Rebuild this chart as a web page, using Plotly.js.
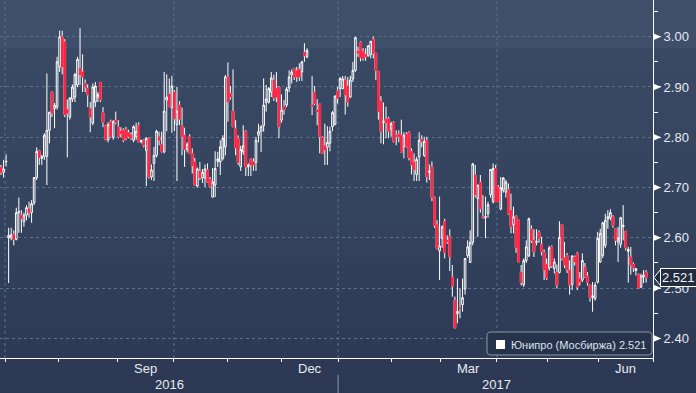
<!DOCTYPE html>
<html><head><meta charset="utf-8">
<script src="https://cdn.plot.ly/plotly-3.0.1.min.js"></script>
<style>
html,body{margin:0;padding:0;width:696px;height:393px;overflow:hidden;
background:linear-gradient(to bottom,#3f4f69 0px,#3f4f69 48px,#3a4963 49px,#35445e 207px,#303d58 300px,#2c3853 393px);}
#chart{width:696px;height:393px;}
</style></head><body><div id="chart"></div>
<script>
const openP=[
2.74,2.73,2.751,2.60,2.60,2.607,2.597,2.65,2.645,2.632,
2.645,2.658,2.65,2.67,2.72,2.773,2.758,2.762,2.762,2.814,
2.89,2.857,2.86,2.94,3.00,2.99,2.855,2.84,2.876,2.88,
2.904,2.937,2.93,2.907,2.897,2.857,2.828,2.87,2.88,2.909,
2.849,2.823,2.795,2.831,2.80,2.834,2.821,2.812,2.814,2.816,
2.809,2.805,2.794,2.801,2.824,2.791,2.794,2.774,2.798,2.721,
2.748,2.764,2.801,2.786,2.771,2.874,2.886,2.859,2.89,2.825,
2.864,2.823,2.804,2.776,2.801,2.768,2.751,2.703,2.733,2.719,
2.719,2.735,2.716,2.681,2.705,2.752,2.751,2.758,2.781,2.92,
2.887,2.852,2.817,2.798,2.741,2.771,2.812,2.741,2.757,2.751,
2.75,2.804,2.812,2.823,2.869,2.87,2.89,2.914,2.897,2.90,
2.834,2.861,2.864,2.898,2.924,2.937,2.932,2.935,2.93,2.969,
2.96,null,2.864,2.89,2.854,2.866,2.80,2.783,2.78,2.788,
2.821,2.825,2.892,2.897,2.897,2.914,2.902,2.88,2.916,2.933,
2.971,2.989,2.971,2.965,2.962,2.965,2.995,2.967,2.931,2.872,
2.829,2.836,2.837,2.816,2.829,2.804,2.806,2.804,2.781,2.806,
2.81,2.772,2.751,2.726,2.761,2.796,2.764,2.794,2.73,2.741,
2.68,2.626,2.574,2.599,2.633,2.595,2.602,2.522,2.476,2.449,
2.461,2.467,2.498,2.565,2.551,2.591,2.725,2.678,2.71,2.642,
2.64,2.648,2.686,2.672,2.738,2.70,2.657,2.695,2.691,2.696,
2.655,2.626,2.642,2.635,2.532,2.507,2.555,2.564,2.617,2.595,
2.591,2.611,2.587,2.571,2.547,2.54,2.582,2.539,2.532,2.531,
2.626,2.56,2.565,2.536,2.507,2.562,2.569,2.519,2.516,2.542,
2.524,2.507,2.481,2.479,2.512,2.552,2.565,2.585,2.637,2.64,
2.642,2.618,2.592,2.587,2.622,2.613,2.573,2.562,2.547,2.535,
2.527,2.502,2.522,2.532];
const highP=[
2.745,2.755,2.766,2.62,2.62,2.615,2.66,2.68,2.655,2.65,
2.665,2.672,2.675,2.72,2.78,2.775,2.765,2.808,2.927,2.85,
2.89,2.868,2.96,3.012,3.012,2.995,2.875,2.88,2.905,2.928,
2.96,3.017,2.965,2.915,2.905,2.87,2.907,2.91,2.89,2.91,
2.86,2.825,2.83,2.835,2.834,2.851,2.834,2.82,2.818,2.821,
2.815,2.81,2.824,2.829,2.83,2.795,2.796,2.80,2.80,2.746,
2.781,2.815,2.811,2.811,2.93,2.925,2.917,2.922,2.894,2.90,
2.872,2.859,2.819,2.79,2.806,2.778,2.759,2.74,2.751,2.737,
2.746,2.748,2.721,2.739,2.772,2.771,2.794,2.804,2.924,2.949,
2.902,2.935,2.834,2.804,2.783,2.824,2.814,2.748,2.758,2.758,
2.801,2.827,2.824,2.917,2.904,2.90,2.93,2.924,2.93,2.902,
2.885,2.874,2.90,2.933,2.935,2.937,2.94,2.947,2.952,2.987,
2.977,null,2.922,2.902,2.876,2.866,2.802,2.827,2.822,2.821,
2.852,2.883,2.90,2.92,2.922,2.922,2.92,2.922,2.95,3.00,
2.98,2.991,2.977,2.977,2.983,2.991,3.00,2.967,2.931,2.882,
2.869,2.861,2.841,2.831,2.832,2.814,2.814,2.835,2.81,2.81,
2.812,2.778,2.768,2.761,2.81,2.804,2.801,2.801,2.746,2.752,
2.682,2.635,2.682,2.625,2.638,2.605,2.617,2.546,2.483,2.519,
2.50,2.519,2.559,2.595,2.615,2.749,2.745,2.705,2.725,2.685,
2.682,2.672,2.736,2.748,2.745,2.705,2.721,2.721,2.715,2.708,
2.688,2.662,2.645,2.635,2.546,2.559,2.595,2.64,2.625,2.617,
2.617,2.615,2.602,2.577,2.559,2.584,2.585,2.559,2.547,2.633,
2.626,2.592,2.57,2.555,2.565,2.565,2.572,2.532,2.569,2.55,
2.532,2.507,2.512,2.512,2.612,2.618,2.632,2.648,2.655,2.657,
2.645,2.618,2.622,2.642,2.665,2.613,2.582,2.582,2.551,2.539,
2.529,2.529,2.536,2.536];
const lowP=[
2.725,2.72,2.742,2.51,2.595,2.585,2.595,2.61,2.61,2.622,
2.635,2.64,2.63,2.665,2.715,2.745,2.745,2.755,2.705,2.788,
2.84,2.818,2.855,2.93,2.925,2.84,2.76,2.835,2.87,2.87,
2.90,2.904,2.89,2.89,2.86,2.81,2.824,2.86,2.87,2.87,
2.82,2.795,2.79,2.80,2.795,2.826,2.798,2.80,2.79,2.794,
2.798,2.795,2.79,2.795,2.79,2.788,2.78,2.703,2.718,2.715,
2.713,2.76,2.784,2.77,2.768,2.812,2.86,2.809,2.812,2.713,
2.824,2.764,2.741,2.77,2.768,2.728,2.705,2.70,2.715,2.709,
2.701,2.71,2.70,2.68,2.681,2.741,2.725,2.754,2.764,2.831,
2.875,2.82,2.764,2.745,2.733,2.765,2.723,2.723,2.723,2.733,
2.733,2.79,2.771,2.811,2.851,2.867,2.88,2.872,2.87,2.798,
2.829,2.845,2.86,2.89,2.907,2.914,2.91,2.912,2.912,2.95,
2.957,null,2.844,2.864,2.824,2.768,2.768,2.745,2.745,2.772,
2.812,2.824,2.867,2.88,2.895,2.845,2.861,2.878,2.91,2.93,
2.96,2.951,2.952,2.952,2.96,2.957,2.957,2.914,2.835,2.788,
2.786,2.798,2.798,2.801,2.79,2.784,2.79,2.77,2.758,2.78,
2.754,2.726,2.713,2.713,2.713,2.78,2.761,2.71,2.715,2.673,
2.62,2.577,2.516,2.58,2.559,2.588,2.534,2.483,2.42,2.43,
2.44,2.453,2.487,2.56,2.551,2.585,2.68,2.602,2.65,2.638,
2.599,2.64,2.68,2.668,2.672,2.672,2.655,2.69,2.68,2.646,
2.609,2.609,2.57,2.552,2.505,2.502,2.55,2.562,2.59,2.562,
2.585,2.59,2.565,2.516,2.516,2.535,2.54,2.529,2.499,2.529,
2.555,2.54,2.53,2.487,2.496,2.545,2.496,2.505,2.512,2.52,
2.505,2.473,2.453,2.475,2.509,2.55,2.56,2.58,2.618,2.635,
2.62,2.585,2.552,2.58,2.595,2.575,2.511,2.527,2.532,2.525,
2.499,2.50,2.51,2.511];
const closeP=[
2.73,2.737,2.752,2.605,2.606,2.597,2.65,2.652,2.638,2.645,
2.66,2.65,2.668,2.72,2.772,2.76,2.762,2.804,2.814,2.85,
2.848,2.863,2.95,3.00,2.94,2.845,2.848,2.878,2.90,2.925,
2.955,2.924,2.92,2.90,2.884,2.84,2.90,2.902,2.885,2.874,
2.83,2.795,2.825,2.801,2.831,2.829,2.801,2.807,2.794,2.798,
2.801,2.798,2.821,2.812,2.791,2.794,2.784,2.798,2.721,2.735,
2.764,2.812,2.794,2.771,2.852,2.880,2.861,2.902,2.837,2.852,
2.836,2.801,2.776,2.786,2.768,2.743,2.705,2.737,2.719,2.730,
2.737,2.711,2.701,2.711,2.738,2.757,2.781,2.798,2.92,2.87,
2.88,2.821,2.779,2.75,2.776,2.783,2.741,2.745,2.745,2.745,
2.794,2.811,2.821,2.864,2.876,2.897,2.918,2.878,2.88,2.821,
2.854,2.855,2.896,2.92,2.93,2.92,2.92,2.92,2.95,2.962,
2.973,null,2.861,2.867,2.851,2.801,2.768,2.775,2.79,2.812,
2.849,2.882,2.877,2.917,2.916,2.884,2.87,2.914,2.933,2.998,
2.967,2.958,2.957,2.96,2.982,2.991,2.967,2.933,2.851,2.811,
2.832,2.829,2.812,2.827,2.791,2.802,2.801,2.77,2.804,2.781,
2.759,2.745,2.735,2.756,2.794,2.791,2.792,2.721,2.733,2.68,
2.624,2.579,2.584,2.622,2.57,2.592,2.562,2.504,2.421,2.454,
2.46,2.481,2.559,2.582,2.591,2.747,2.685,2.705,2.658,2.64,
2.642,2.666,2.736,2.738,2.672,2.672,2.70,2.719,2.711,2.648,
2.622,2.642,2.58,2.552,2.511,2.555,2.582,2.638,2.595,2.572,
2.593,2.599,2.572,2.536,2.52,2.58,2.544,2.552,2.506,2.601,
2.559,2.546,2.536,2.506,2.564,2.552,2.502,2.512,2.555,2.522,
2.511,2.481,2.485,2.506,2.599,2.609,2.63,2.635,2.642,2.65,
2.625,2.595,2.60,2.64,2.625,2.58,2.577,2.546,2.54,2.539,
2.50,2.524,2.526,2.521];

// month boundaries (trading-day index positions) and labels
const monthTicks=[1.57,22.4,45.5,67.8,89.0,110.2,132.2,153.3,172.5,194.5,214.5,234.5,255.7];
const quarterGrid=[1.57,67.8,132.2,194.5];
const monthLabels=["Sep","Dec","Mar","Jun"];
const monthLabelPos=[56.6,121.2,183.5,245.1];
const yearLabels=["2016","2017"];
const yearLabelPos=[65.9,194.5];
const yearSplit=132.2;
const yTicks=[2.40,2.50,2.60,2.70,2.80,2.90,3.00];
const yMinor=[2.45,2.55,2.65,2.75,2.85,2.95,3.05];
const seriesName="Юнипро (Мосбиржа)";

const idx=closeP.map((_,i)=>i);
const bodyHi=openP.map((o,i)=>o==null?null:Math.max(o,closeP[i]));
const bodyLo=openP.map((o,i)=>o==null?null:Math.min(o,closeP[i]));
const last=closeP[closeP.length-1];
const RED='#ff2340';
const GRID='#58718d';
const FONT='Liberation Sans, Arial, sans-serif';

const traces=[
 {type:'candlestick',x:idx,open:openP,high:highP,low:lowP,close:closeP,
  increasing:{line:{color:'#ffffff',width:1},fillcolor:'rgba(0,0,0,0)'},
  decreasing:{line:{color:'#ffffff',width:1},fillcolor:RED},
  whiskerwidth:0,hoverinfo:'skip',showlegend:false},
 {type:'candlestick',x:idx,open:openP,high:bodyHi,low:bodyLo,close:closeP,
  increasing:{line:{color:'rgba(0,0,0,0)',width:1},fillcolor:'rgba(0,0,0,0)'},
  decreasing:{line:{color:RED,width:1},fillcolor:RED},
  whiskerwidth:0,hoverinfo:'skip',showlegend:false}
];

const shapes=[];
quarterGrid.forEach(g=>shapes.push({type:'line',xref:'x',yref:'paper',x0:g,x1:g,y0:0,y1:1,
  line:{color:GRID,width:1,dash:'3px,3px'},layer:'below'}));
shapes.push({type:'line',xref:'x',yref:'paper',x0:yearSplit,x1:yearSplit,y0:-0.047,y1:-0.1,
  line:{color:'#8d97a8',width:1}});
// tick pennants on right axis
yTicks.forEach(v=>shapes.push({type:'path',xref:'paper',yref:'y',
  path:`M1.001,${v+0.0065} L1.0125,${v} L1.001,${v-0.0065} Z`,
  fillcolor:'#ffffff',line:{color:'#ffffff',width:0}}));
// pointer of the last price box
shapes.push({type:'path',xref:'paper',yref:'y',
  path:`M1.0125,${last+0.0175} L1.0015,${last} L1.0125,${last-0.0175} Z`,
  fillcolor:'#222b40',line:{color:'#ffffff',width:1}});
// legend box
shapes.push({type:'path',xref:'paper',yref:'paper',
  path:'M0.752,0.0726 L0.992,0.0726 Q0.9985,0.0726 0.9985,0.062 L0.9985,0.019 Q0.9985,0.0084 0.992,0.0084 L0.752,0.0084 Q0.7458,0.0084 0.7458,0.019 L0.7458,0.062 Q0.7458,0.0726 0.752,0.0726 Z',
  fillcolor:'#27324b',line:{color:'#8e98aa',width:1}});
shapes.push({type:'rect',xref:'paper',yref:'paper',x0:0.7596,x1:0.7734,y0:0.0251,y1:0.0503,
  fillcolor:'#ffffff',line:{width:0}});

const annotations=[];
monthLabels.forEach((t,k)=>annotations.push({text:t,x:monthLabelPos[k],xref:'x',y:-0.028,yref:'paper',
  showarrow:false,yanchor:'middle',font:{family:FONT,size:13,color:'#e6ebf2'}}));
yearLabels.forEach((t,k)=>annotations.push({text:t,x:yearLabelPos[k],xref:'x',y:-0.073,yref:'paper',
  showarrow:false,yanchor:'middle',font:{family:FONT,size:13,color:'#e6ebf2'}}));
annotations.push({text:last.toFixed(3),x:1.0105,xref:'paper',xanchor:'left',y:last,yref:'y',yanchor:'middle',
  showarrow:false,bgcolor:'#222b40',bordercolor:'#ffffff',borderwidth:1,borderpad:1,
  font:{family:FONT,size:13,color:'#f2f5f9'}});
annotations.push({text:seriesName+' '+last.toFixed(3),x:0.7795,xref:'paper',xanchor:'left',y:0.0377,yref:'paper',
  yanchor:'middle',showarrow:false,font:{family:FONT,size:11,color:'#dce2eb'}});

const layout={width:696,height:393,margin:{l:0,r:43,t:0,b:35,pad:0},
 paper_bgcolor:'rgba(0,0,0,0)',plot_bgcolor:'rgba(0,0,0,0)',
 boxgap:0.08,showlegend:false,dragmode:false,
 xaxis:{range:[-0.39,255.7],tickmode:'array',tickvals:monthTicks,showticklabels:false,
  ticks:'outside',ticklen:3,tickcolor:'#ffffff',tickwidth:1,showgrid:false,zeroline:false,
  showline:true,linecolor:'#ffffff',linewidth:1,rangeslider:{visible:false},fixedrange:true},
 yaxis:{side:'right',range:[2.361,3.073],tickmode:'array',tickvals:yTicks,
  ticktext:yTicks.map(v=>v.toFixed(2)),ticks:'outside',ticklen:7,tickcolor:'#ffffff',tickwidth:1,
  showgrid:true,gridcolor:GRID,griddash:'3px,3px',gridwidth:1,zeroline:false,
  showline:true,linecolor:'#ffffff',linewidth:1,
  tickfont:{family:FONT,size:13,color:'#e4e9f1'},
  minor:{tickmode:'array',tickvals:yMinor,ticks:'outside',ticklen:4,tickcolor:'#ffffff',showgrid:false},
  fixedrange:true},
 shapes:shapes,annotations:annotations};

Plotly.newPlot('chart',traces,layout,{staticPlot:true,displayModeBar:false});
</script></body></html>
